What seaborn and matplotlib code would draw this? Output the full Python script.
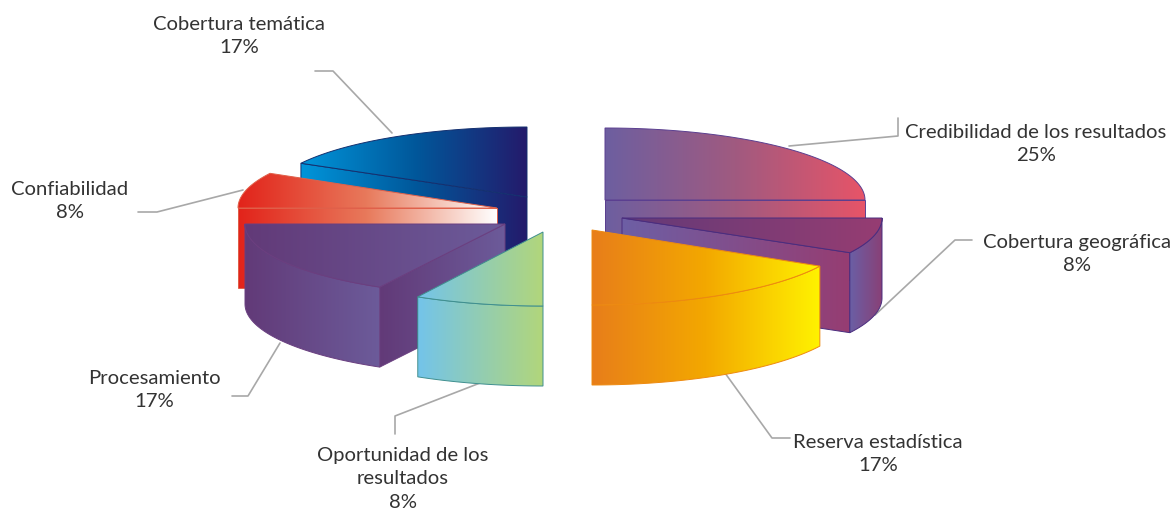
import numpy as np
import matplotlib
matplotlib.use("Agg")
import matplotlib.pyplot as plt
from matplotlib.patches import Polygon
import seaborn as sns

# Chart data
categories = ["Credibilidad de los resultados", "Cobertura geográfica", "Reserva estadística",
              "Oportunidad de los resultados", "Procesamiento", "Confiabilidad", "Cobertura temática"]
shares = [25, 8, 17, 8, 17, 8, 17]

# Display text, wrapped as in the original
label_text = ["Credibilidad de los resultados", "Cobertura geográfica", "Reserva estadística",
              "Oportunidad de los\nresultados", "Procesamiento", "Confiabilidad", "Cobertura temática"]

# Exploded centre (x, y) and radii (rx, ry) of each slice, in pixels
centers = [(605, 200), (622, 218), (592, 230), (543, 232), (505, 224), (497, 208), (527, 197)]
radii = [(260, 72), (260, 72), (260, 75), (260, 74), (260, 72), (259, 72), (258, 70)]
DEPTH = 80

top_colors = [["#6d5fa0", "#a05a80", "#e75468"], ["#633a78", "#963d72"], ["#e87e1a", "#f3a800", "#fff200"],
              ["#73c4ea", "#b2d67a"], ["#623a78", "#6c5b9a"], ["#e2231a", "#e87a5c", "#ffffff"],
              ["#0095da", "#00589b", "#241a6b"]]
outer_colors = [top_colors[0], ["#6a5fa5", "#8a3f75"], top_colors[2], top_colors[3], top_colors[4], top_colors[5],
                top_colors[6]]
wall_colors = [top_colors[0], ["#6d5fa5", "#963d72"], top_colors[2], top_colors[3], top_colors[4], top_colors[5],
               top_colors[6]]
edge_colors = ["#5b3f90", "#4a2d7f", "#ee8a10", "#3f8f8f", "#6a3f80", "#e0604a", "#14306f"]

# Label centre and leader line of each slice
label_pos = [(1036, 144), (1077, 254), (878, 454), (403, 479), (154, 390), (70, 201), (239, 36)]
leaders = [[(789, 146), (898, 136), (898, 118)], [(875, 315), (955, 240), (972, 240)],
           [(725, 373), (772, 438), (790, 438)], [(480, 383), (395, 416), (395, 434)],
           [(280, 343), (248, 396), (232, 396)], [(243, 190), (157, 212), (138, 212)],
           [(392, 133), (333, 71), (315, 71)]]
draw_order = [6, 0, 5, 1, 4, 3, 2]

sns.set_theme(style="white")
plt.rcParams["font.family"] = ["Lato", "DejaVu Sans"]

fig, ax = plt.subplots(figsize=(11.75, 5.14), dpi=100)
ax.set_position([0, 0, 1, 1])
ax.axis("off")


def gradient_face(points, colors, edge):
    points = np.asarray(points)
    x0, x1 = points[:, 0].min(), points[:, 0].max()
    y0, y1 = points[:, 1].min(), points[:, 1].max()
    patch = Polygon(points, closed=True, facecolor="none", edgecolor="none", zorder=3)
    ax.add_patch(patch)
    cmap = sns.blend_palette(colors, n_colors=256, as_cmap=True)
    im = ax.imshow(np.linspace(0, 1, 256).reshape(1, -1), cmap=cmap, extent=(x0, x1, y1, y0),
                   aspect="auto", zorder=3, interpolation="bilinear")
    im.set_clip_path(patch)
    # outline goes on top of the gradient
    ax.add_patch(Polygon(points, closed=True, facecolor="none", edgecolor=edge, linewidth=0.7, zorder=3))


# Slices start at 12 o'clock and run clockwise
ends = 90 - np.cumsum(shares) * 360 / sum(shares)
starts = np.r_[90, ends[:-1]]

for i in draw_order:
    cx, cy = centers[i]
    rx, ry = radii[i]
    t = np.radians(np.linspace(starts[i], ends[i], 60))
    arc = np.c_[cx + rx * np.cos(t), cy - ry * np.sin(t)]
    center = np.array([[cx, cy]])
    low = np.array([0, DEPTH])
    # only the cut faces that turn towards the viewer
    if np.cos(t[0]) < -0.01:
        p = arc[0]
        gradient_face([(cx, cy), p, p + low, (cx, cy + DEPTH)], wall_colors[i], edge_colors[i])
    if np.cos(t[-1]) > 0.01:
        p = arc[-1]
        gradient_face([(cx, cy), p, p + low, (cx, cy + DEPTH)], wall_colors[i], edge_colors[i])
    front = arc[np.sin(t) < 1e-6]
    if len(front) > 1:
        gradient_face(np.r_[front, (front + low)[::-1]], outer_colors[i], edge_colors[i])
    gradient_face(np.r_[center, arc], top_colors[i], edge_colors[i])

for i, line in enumerate(leaders):
    xs, ys = zip(*line)
    ax.plot(xs, ys, color="#a8a8a8", lw=1.2, zorder=2)
    ax.text(label_pos[i][0], label_pos[i][1], f"{label_text[i]}\n{shares[i]}%", ha="center", va="center",
            fontsize=14.6, color="#333333", linespacing=1.45, zorder=4)

ax.set_xlim(0, 1175)
ax.set_ylim(514, 0)

plt.savefig("out.png", dpi=100)
